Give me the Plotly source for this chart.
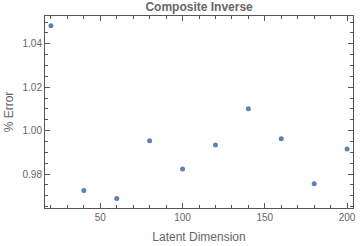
import plotly.graph_objects as go

latent_dim = [20, 40, 60, 80, 100, 120, 140, 160, 180, 200]
pct_error = [1.0483, 0.9725, 0.9688, 0.9954, 0.9824, 0.9934, 1.0101, 0.9963, 0.9756, 0.9916]

fig = go.Figure(go.Scatter(
    x=latent_dim, y=pct_error, mode="markers",
    marker=dict(color="#5E81B5", size=5),
))

axis_common = dict(
    showgrid=False, zeroline=False, showline=True, linecolor="#555555", linewidth=1,
    mirror="allticks", ticks="inside", ticklen=5, tickcolor="#555555", tickwidth=1,
    tickfont=dict(family="Liberation Sans", size=10, color="#666666"),
)

fig.update_xaxes(
    range=[16.4, 203.6], tickvals=[50, 100, 150, 200],
    minor=dict(dtick=10, tick0=0, ticks="inside", ticklen=3, tickcolor="#555555"),
    title=dict(text="Latent Dimension", font=dict(family="Liberation Sans", size=12, color="#666666"), standoff=10),
    **axis_common,
)
fig.update_yaxes(
    range=[0.9644, 1.0528], tickvals=[0.98, 1.00, 1.02, 1.04], tickformat=".2f",
    minor=dict(dtick=0.005, tick0=0.96, ticks="inside", ticklen=3, tickcolor="#555555"),
    title=dict(text="% Error", font=dict(family="Liberation Sans", size=12, color="#666666"), standoff=6),
    **axis_common,
)

fig.update_layout(
    width=360, height=246,
    margin=dict(l=45, r=4, t=16, b=38),
    plot_bgcolor="white", paper_bgcolor="white",
    showlegend=False,
    title=dict(text="<b>Composite Inverse</b>", x=0.553, xanchor="center", y=0.99, yanchor="top",
               font=dict(family="Liberation Sans", size=12, color="#666666")),
)

fig.write_html("out.html", config={"displayModeBar": False},
               post_script="document.body.style.margin='0';document.body.style.overflow='hidden';")
